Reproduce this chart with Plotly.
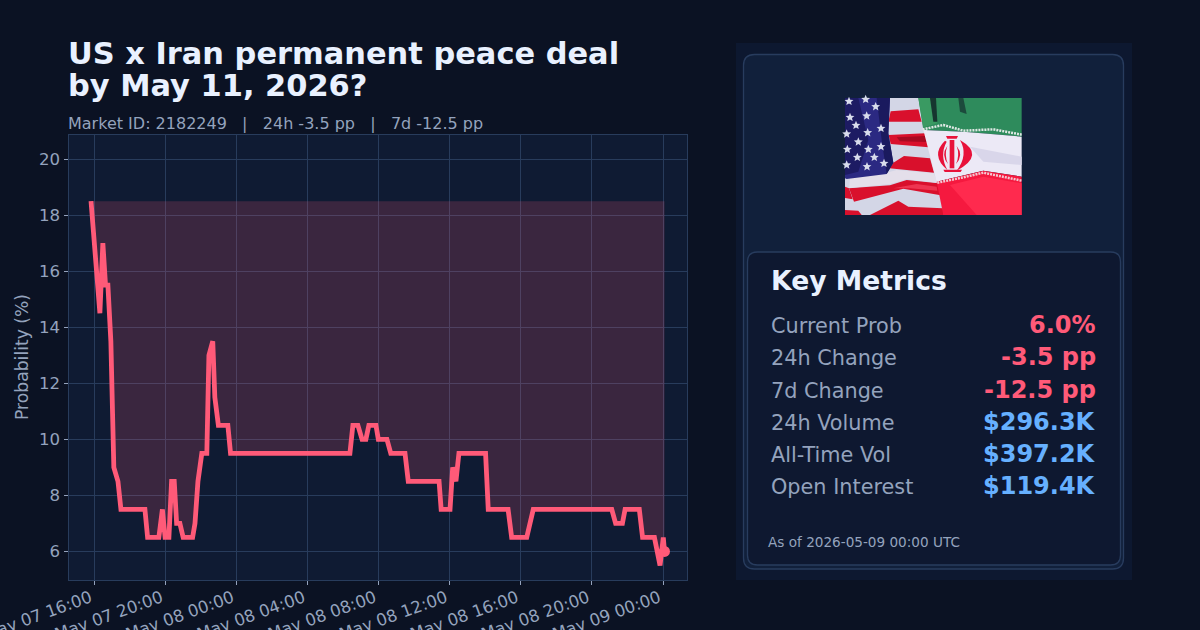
import math
import plotly.graph_objects as go

# market history
times = [
    "2026-05-07 15:49", "2026-05-07 16:19", "2026-05-07 16:29", "2026-05-07 16:38", "2026-05-07 16:46",
    "2026-05-07 16:56", "2026-05-07 17:06", "2026-05-07 17:20", "2026-05-07 17:30", "2026-05-07 18:51",
    "2026-05-07 19:00", "2026-05-07 19:38", "2026-05-07 19:50", "2026-05-07 19:59", "2026-05-07 20:12",
    "2026-05-07 20:21", "2026-05-07 20:30", "2026-05-07 20:38", "2026-05-07 20:49", "2026-05-07 21:00",
    "2026-05-07 21:32", "2026-05-07 21:40", "2026-05-07 21:50", "2026-05-07 22:03", "2026-05-07 22:20",
    "2026-05-07 22:27", "2026-05-07 22:40", "2026-05-07 22:47", "2026-05-07 22:59", "2026-05-07 23:31",
    "2026-05-07 23:40", "2026-05-08 06:23", "2026-05-08 06:33", "2026-05-08 06:50", "2026-05-08 07:04",
    "2026-05-08 07:17", "2026-05-08 07:27", "2026-05-08 07:51", "2026-05-08 07:59", "2026-05-08 08:28",
    "2026-05-08 08:41", "2026-05-08 09:29", "2026-05-08 09:40", "2026-05-08 11:24", "2026-05-08 11:31",
    "2026-05-08 12:01", "2026-05-08 12:10", "2026-05-08 12:21", "2026-05-08 12:31", "2026-05-08 14:01",
    "2026-05-08 14:10", "2026-05-08 15:17", "2026-05-08 15:29", "2026-05-08 16:20", "2026-05-08 16:42",
    "2026-05-08 21:07", "2026-05-08 21:20", "2026-05-08 21:43", "2026-05-08 21:52", "2026-05-08 22:40",
    "2026-05-08 22:51", "2026-05-08 23:31", "2026-05-08 23:50", "2026-05-09 00:01", "2026-05-09 00:05",
]
prob = [
    18.5, 14.5, 17.0, 15.5, 15.5, 13.5, 9.0, 8.5, 7.5, 7.5,
    6.5, 6.5, 7.5, 6.5, 6.5, 8.5, 8.5, 7.0, 7.0, 6.5,
    6.5, 7.0, 8.5, 9.5, 9.5, 13.0, 13.5, 11.5, 10.5, 10.5,
    9.5, 9.5, 10.5, 10.5, 10.0, 10.0, 10.5, 10.5, 10.0, 10.0,
    9.5, 9.5, 8.5, 8.5, 7.5, 7.5, 9.0, 8.5, 9.5, 9.5,
    7.5, 7.5, 6.5, 6.5, 7.5, 7.5, 7.0, 7.0, 7.5, 7.5,
    6.5, 6.5, 5.5, 6.5, 6.0,
]
top_level = [18.5] * len(times)

tick_times = [
    "2026-05-07 16:00", "2026-05-07 20:00", "2026-05-08 00:00", "2026-05-08 04:00", "2026-05-08 08:00",
    "2026-05-08 12:00", "2026-05-08 16:00", "2026-05-08 20:00", "2026-05-09 00:00",
]
tick_labels = [
    "May 07 16:00", "May 07 20:00", "May 08 00:00", "May 08 04:00", "May 08 08:00",
    "May 08 12:00", "May 08 16:00", "May 08 20:00", "May 09 00:00",
]
y_ticks = [6, 8, 10, 12, 14, 16, 18, 20]

metric_names = ["Current Prob", "24h Change", "7d Change", "24h Volume", "All-Time Vol", "Open Interest"]
metric_values = ["6.0%", "-3.5 pp", "-12.5 pp", "$296.3K", "$397.2K", "$119.4K"]

BG = "#0b1223"
PLOT_BG = "#0f1b33"
GRID = "#283c5c"
RED = "#ff5a78"
BLUE = "#66b0ff"
MUTED = "#94a3bd"
WHITE = "#e9f1ff"
FONT = "DejaVu Sans"
W, H = 1200, 630


def px(x):
    return x / W


def py(y):
    return 1 - y / H


def text(x, y, s, size, color, bold=False, anchor="left", angle=0):
    fig.add_annotation(
        x=px(x), y=py(y), xref="paper", yref="paper", text=f"<b>{s}</b>" if bold else s,
        showarrow=False, xanchor=anchor, yanchor="middle", textangle=angle,
        font=dict(family=FONT, size=size, color=color), borderpad=0, borderwidth=0,
    )


def round_rect(x0, y0, x1, y1, r, fill, line=None, width=1):
    p = (f"M {px(x0 + r)} {py(y0)} L {px(x1 - r)} {py(y0)} Q {px(x1)} {py(y0)} {px(x1)} {py(y0 + r)} "
         f"L {px(x1)} {py(y1 - r)} Q {px(x1)} {py(y1)} {px(x1 - r)} {py(y1)} "
         f"L {px(x0 + r)} {py(y1)} Q {px(x0)} {py(y1)} {px(x0)} {py(y1 - r)} "
         f"L {px(x0)} {py(y0 + r)} Q {px(x0)} {py(y0)} {px(x0 + r)} {py(y0)} Z")
    fig.add_shape(type="path", path=p, xref="paper", yref="paper", fillcolor=fill, layer="below",
                  line=dict(color=line or fill, width=width if line else 0))


# flag picture coordinates are measured on a 3x crop starting at (730, 40)
def fx(x):
    return px(730 + x / 3)


def fy(y):
    return py(40 + y / 3)


def poly(points, fill):
    p = "M " + " L ".join(f"{fx(x)} {fy(y)}" for x, y in points) + " Z"
    fig.add_shape(type="path", path=p, xref="paper", yref="paper", fillcolor=fill,
                  line=dict(width=0), layer="above")


def curve(d, fill):
    parts = []
    for cmd, pts in d:
        parts.append(cmd + " " + " ".join(f"{fx(x)} {fy(y)}" for x, y in pts))
    fig.add_shape(type="path", path=" ".join(parts) + " Z", xref="paper", yref="paper", fillcolor=fill,
                  line=dict(width=0), layer="above")


def star(cx, cy, r, fill):
    pts = []
    for i in range(10):
        a = -math.pi / 2 + i * math.pi / 5
        rad = r if i % 2 == 0 else r * 0.45
        pts.append((cx + rad * math.cos(a), cy + rad * math.sin(a)))
    poly(pts, fill)


def band(points, color):
    fig.add_shape(type="path", xref="paper", yref="paper", layer="above",
                  path="M " + " L ".join(f"{fx(x)} {fy(y)}" for x, y in points),
                  line=dict(color=color, width=2.5, dash="2px,1px"))


def draw_flags():
    # US side
    poly([(345, 174), (570, 174), (645, 525), (345, 525)], "#d3d6e6")
    for s in [
        [(482, 214), (565, 208), (575, 245), (475, 245)],
        [(476, 285), (585, 280), (596, 322), (482, 312)],
        [(490, 368), (522, 348), (600, 355), (612, 398), (478, 385)],
        [(357, 445), (480, 436), (530, 420), (625, 430), (632, 466), (520, 446), (372, 485)],
        [(345, 440), (357, 445), (368, 478), (345, 474)],
        [(345, 510), (385, 512), (395, 525), (345, 525)],
        [(420, 525), (505, 482), (535, 500), (638, 505), (642, 525)],
    ]:
        poly(s, "#d9102c")
    poly([(500, 292), (585, 288), (590, 306), (510, 304)], "#a80a22")
    poly([(490, 445), (560, 432), (620, 440), (622, 452), (540, 445)], "#ee3550")
    poly([(360, 410), (470, 398), (500, 390), (612, 400), (622, 428), (530, 418), (480, 432), (358, 444)], "#e4dfea")
    poly([(345, 174), (480, 174), (475, 280), (490, 368), (470, 402), (350, 417), (345, 415)], "#2b2982")
    poly([(345, 174), (385, 174), (415, 300), (385, 395), (345, 405)], "#1d1b63")
    poly([(440, 174), (480, 174), (475, 280), (490, 368), (470, 402), (455, 300)], "#1a1a5e")
    for cx, cy in [(357, 184), (407, 178), (437, 200), (360, 232), (410, 228), (378, 256), (453, 265),
                   (413, 278), (350, 282), (385, 306), (453, 320), (415, 328), (352, 328), (382, 352),
                   (433, 352), (350, 375), (411, 380), (462, 370)]:
        star(cx, cy, 14, "#d8dcec")

    # Iran side
    poly([(565, 174), (875, 174), (875, 290), (700, 275), (580, 270)], "#2e8b5c")
    poly([(565, 174), (612, 174), (622, 250), (580, 262)], "#3a9a62")
    poly([(600, 174), (618, 174), (622, 245), (610, 245)], "#16352f")
    poly([(685, 174), (700, 174), (710, 222), (690, 215)], "#1c4a3c")
    poly([(580, 270), (700, 275), (875, 290), (875, 410), (760, 392), (620, 425)], "#ece9f6")
    poly([(720, 320), (875, 350), (875, 375), (760, 365)], "#d9d6ea")
    poly([(620, 425), (760, 392), (875, 410), (875, 525), (640, 525)], "#f5193f")
    poly([(660, 435), (760, 410), (875, 430), (875, 525), (740, 525)], "#ff2a4e")
    band([(578, 268), (640, 255), (700, 272), (790, 268), (875, 284)], "#dfe8e4")
    band([(622, 428), (700, 412), (760, 398), (875, 422)], "#f3c8d2")

    # emblem
    poly([(659, 300), (673, 300), (673, 385), (659, 385)], "#e8123a")
    curve([("M", [(645, 302)]), ("Q", [(600, 345), (652, 390)]), ("Q", [(628, 345), (650, 305)])], "#e8123a")
    curve([("M", [(690, 300)]), ("Q", [(768, 345), (680, 392)]), ("Q", [(716, 345), (690, 300)])], "#e8123a")
    curve([("M", [(680, 318)]), ("Q", [(702, 345), (678, 372)]), ("Q", [(690, 345), (680, 318)])], "#e8123a")
    curve([("M", [(652, 318)]), ("Q", [(632, 345), (654, 372)]), ("Q", [(642, 345), (652, 318)])], "#e8123a")
    poly([(648, 288), (684, 288), (680, 296), (652, 296)], "#e8123a")
    poly([(640, 389), (696, 389), (692, 396), (644, 396)], "#e8123a")


fig = go.Figure()

# fill runs between the price line and its opening level
fig.add_trace(go.Scatter(x=times, y=top_level, mode="lines", line=dict(width=0), hoverinfo="skip", showlegend=False))
fig.add_trace(go.Scatter(x=times, y=prob, mode="lines", line=dict(color=RED, width=4.8),
                         fill="tonexty", fillcolor="rgba(255,90,120,0.18)", showlegend=False))
fig.add_trace(go.Scatter(x=times[-1:], y=prob[-1:], mode="markers", marker=dict(color=RED, size=11),
                         showlegend=False))

# side panel
round_rect(736, 43, 1132, 580, 0.01, "#0d1830")
round_rect(743.5, 54.5, 1123.5, 569, 11, "#11203b", "#283c5e", 1.3)
round_rect(747.5, 252, 1120.5, 565, 10, "#0e1830", "#283c5e", 1.3)
draw_flags()

text(67.5, 53, "US x Iran permanent peace deal", 30.45, WHITE, bold=True)
text(67.5, 86, "by May 11, 2026?", 30.45, WHITE, bold=True)
text(68, 124, "Market ID: 2182249\u00a0\u00a0\u00a0|\u00a0\u00a0\u00a024h -3.5 pp\u00a0\u00a0\u00a0|\u00a0\u00a0\u00a07d -12.5 pp", 16, MUTED)
text(22, 357, "Probability (%)", 17.2, MUTED, angle=-90, anchor="center")

text(771, 280.5, "Key Metrics", 26.6, WHITE, bold=True)
row_y = [326, 358, 391, 423, 455, 487]
for name, value, y in zip(metric_names, metric_values, row_y):
    text(771, y, name, 20.8, MUTED)
    text(1096, y - 0.7, f"{value}", 24, RED if value.endswith(("%", "pp")) else BLUE, bold=True, anchor="right")
text(768, 542, "As of 2026-05-09 00:00 UTC", 13.6, MUTED)

axis_style = dict(gridcolor=GRID, gridwidth=1, linecolor=GRID, linewidth=1, mirror=True, showline=True,
                  ticks="outside", ticklen=4, tickcolor=MUTED, tickwidth=1, zeroline=False,
                  tickfont=dict(family=FONT, size=16.6, color=MUTED))

fig.update_layout(
    width=W, height=H, margin=dict(l=0, r=0, t=0, b=0), paper_bgcolor=BG, plot_bgcolor=PLOT_BG,
    showlegend=False, font=dict(family=FONT),
    xaxis=dict(domain=[68.5 / W, 687 / W], type="date", range=["2026-05-07 14:33", "2026-05-09 01:21"],
               tickmode="array", tickvals=tick_times, ticktext=tick_labels, tickangle=-20, automargin=False,
               ticklabeloverflow="allow", ticklabelshift=-4, ticklabelstandoff=-3, **axis_style),
    yaxis=dict(domain=[1 - 580 / H, 1 - 135 / H], range=[4.98, 20.86], tickmode="array", tickvals=y_ticks,
               automargin=False, **axis_style),
)

fig.write_html("out.html", config=dict(displayModeBar=False),
               post_script="document.body.style.margin='0';document.body.style.background='" + BG + "';")
